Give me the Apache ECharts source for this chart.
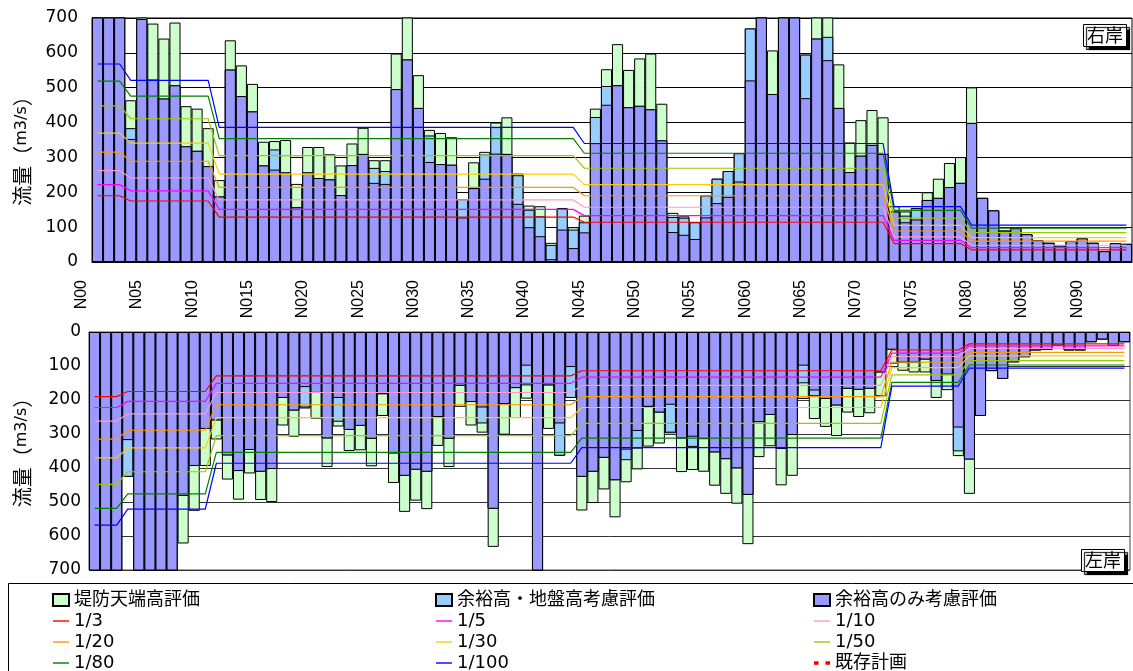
<!DOCTYPE html>
<html>
<head>
<meta charset="utf-8">
<script src="https://cdn.jsdelivr.net/npm/echarts@6/dist/echarts.min.js"></script>
<style>
html, body { margin: 0; padding: 0; background: #fff; }
#chart { width: 1133px; height: 671px; }
</style>
</head>
<body>
<div id="chart"></div>
<script>
// 測点 N00〜N093
const stations = Array.from({ length: 94 }, (_, i) => 'N0' + i);

// 右岸（上段）流下能力 m3/s
const rightDike = [760,760,760,464,720,684,641,687,447,440,
  384,235,636,564,511,345,347,350,224,330,
  330,309,277,340,385,292,292,598,703,536,
  379,370,358,180,286,316,400,415,254,162,
  160,55,155,100,133,440,553,625,551,584,
  598,454,141,131,114,191,239,261,312,670,
  760,607,760,760,595,760,760,567,343,407,
  436,415,160,145,155,200,239,284,301,501,
  184,148,90,97,80,62,55,47,60,68,
  55,31,54,52];
const rightGround = [760,760,760,384,697,523,469,507,332,319,
  275,188,552,476,432,277,323,257,157,257,
  241,237,192,278,310,270,261,496,581,442,
  363,281,279,180,212,308,387,310,249,150,
  131,49,152,93,114,416,505,507,444,448,
  438,349,129,127,114,191,239,261,312,670,
  760,482,760,760,595,641,646,442,258,305,
  336,310,145,133,150,178,184,215,227,399,
  184,148,90,97,80,62,55,47,60,68,
  55,31,54,52];
const rightFree = [760,760,760,353,697,523,469,507,332,319,
  275,188,552,476,432,277,265,257,157,257,
  241,237,192,278,310,227,224,496,581,442,
  287,281,279,128,212,239,311,310,167,100,
  74,8,93,40,85,341,451,507,444,448,
  438,349,86,78,66,128,169,187,231,521,
  760,482,760,760,470,641,579,442,258,305,
  336,310,145,114,122,178,184,215,227,399,
  184,148,90,97,80,62,55,47,60,68,
  55,31,54,52];

// 左岸（下段）
const leftDike = [760,760,760,426,760,760,760,760,622,526,
  394,316,434,493,416,494,500,275,308,225,
  255,397,278,350,348,395,247,444,529,496,
  521,335,397,220,275,296,632,302,253,196,
  760,285,364,194,525,503,463,545,442,404,
  337,328,298,412,406,411,452,476,505,624,
  368,336,451,423,197,256,279,306,237,250,
  239,189,93,114,119,119,194,171,365,476,
  247,115,138,89,74,54,53,40,54,54,
  30,22,41,30];
const leftGround = [760,760,760,426,760,760,760,760,482,394,
  285,260,363,409,347,411,403,194,231,222,
  179,313,264,288,276,314,183,357,423,405,
  411,250,314,158,206,269,520,212,165,157,
  760,157,364,194,426,411,370,436,377,343,
  220,237,296,313,338,315,354,374,401,479,
  265,244,344,303,151,189,197,216,167,170,
  167,119,52,90,90,81,144,125,351,375,
  247,115,138,89,74,54,53,40,54,54,
  30,22,41,30];
const leftFree = [760,760,760,318,760,760,760,760,482,394,
  285,260,363,409,347,411,403,194,231,162,
  179,313,194,288,276,314,183,357,423,405,
  411,250,314,158,206,222,520,212,165,99,
  760,157,269,103,426,411,370,436,346,291,
  220,237,214,313,308,315,354,374,401,479,
  265,244,344,303,99,172,197,216,167,170,
  167,119,52,90,90,81,144,125,281,375,
  247,115,138,89,74,54,53,40,54,54,
  30,22,41,30];

// 確率規模別流量（区間ごと）
const segStart = [0, 3, 11, 44, 72, 79];
const q3   = [190, 175, 129, 114, 53, 35];
const q5   = [222, 204, 151, 133, 62, 41];
const q10  = [262, 241, 178, 157, 72, 48];
const q20  = [315, 289, 214, 190, 89, 60];
const q30  = [370, 341, 252, 222, 105, 70];
const q50  = [448, 411, 305, 269, 126, 84];
const q80  = [519, 476, 354, 312, 148, 97];
const q100 = [568, 521, 386, 340, 159, 106];
const existingPlan = [];

const yTicks = [0, 100, 200, 300, 400, 500, 600, 700];

function expand(levels) {
  return stations.map((_, i) => {
    let s = 0;
    segStart.forEach((st, j) => { if (i >= st) s = j; });
    return levels[s];
  });
}

const chart = echarts.init(document.getElementById('chart'));

const barDefs = [
  { name: '堤防天端高評価', color: '#CCFFCC', top: rightDike, bottom: leftDike },
  { name: '余裕高・地盤高考慮評価', color: '#99CCFF', top: rightGround, bottom: leftGround },
  { name: '余裕高のみ考慮評価', color: '#9999FF', top: rightFree, bottom: leftFree }
];
const lineDefs = [
  { name: '1/3', color: '#FF0000', v: q3 },
  { name: '1/5', color: '#FF00FF', v: q5 },
  { name: '1/10', color: '#FF99CC', v: q10 },
  { name: '1/20', color: '#FF9900', v: q20 },
  { name: '1/30', color: '#FFCC00', v: q30 },
  { name: '1/50', color: '#99CC00', v: q50 },
  { name: '1/80', color: '#008000', v: q80 },
  { name: '1/100', color: '#0000FF', v: q100 }
];

const series = [];
[0, 1].forEach(p => {
  barDefs.forEach(b => {
    series.push({
      type: 'bar', name: b.name,
      xAxisIndex: p, yAxisIndex: p,
      data: p === 0 ? b.top : b.bottom,
      barGap: '-100%', barCategoryGap: '0%',
      itemStyle: { color: b.color, borderColor: '#000', borderWidth: 1 },
      silent: true
    });
  });
  lineDefs.forEach(l => {
    series.push({
      type: 'line', name: l.name,
      xAxisIndex: p, yAxisIndex: p,
      data: expand(l.v),
      symbol: 'none', z: 3, silent: true,
      itemStyle: { color: l.color },
      lineStyle: { color: l.color, width: 1.2 }
    });
  });
  series.push({
    type: 'line', name: '既存計画',
    xAxisIndex: p, yAxisIndex: p,
    data: existingPlan, symbol: 'none', z: 4,
    itemStyle: { color: '#FF0000' },
    lineStyle: { color: '#FF0000', width: 3, type: [4, 5] }
  });
});

const numFont = { fontFamily: 'DejaVu Sans', fontSize: 17, color: '#000' };
const nameRich = {
  a: { fontFamily: 'Noto Sans CJK JP', fontSize: 20, color: '#000' },
  c: { fontFamily: 'DejaVu Sans', fontSize: 16, color: '#000' }
};
const legendText = { fontFamily: 'DejaVu Sans, Noto Sans CJK JP', fontSize: 18, lineHeight: 18, color: '#000' };
const lineIcon = 'path://M0 0H16V1.4H0Z';
const dashIcon = 'path://M0 0H4V3H0Z M10 0H14V3H10Z';
function legendAt(left, names) {
  return {
    orient: 'vertical', left: left, top: 586, height: 110,
    itemWidth: 16, itemHeight: 12, itemGap: 3,
    textStyle: legendText,
    selectedMode: false,
    data: names.map(n => {
      if (barDefs.some(b => b.name === n)) return { name: n, icon: 'rect' };
      if (n === '既存計画') return { name: n, icon: dashIcon };
      return { name: n, icon: lineIcon };
    })
  };
}
const boxTitle = (text, left, top) => ({
  text: text, left: left, top: top,
  padding: [2, 4, 2, 4],
  backgroundColor: '#fff', borderColor: '#000', borderWidth: 1,
  shadowColor: '#000', shadowBlur: 1, shadowOffsetX: 3, shadowOffsetY: 3,
  textStyle: { fontFamily: 'Noto Sans CJK JP', fontSize: 18, fontWeight: 'normal', color: '#000', lineHeight: 19 }
});

const option = {
  animation: false,
  backgroundColor: '#fff',
  title: [boxTitle('右岸', 1083, 24), boxTitle('左岸', 1081, 549)],
  legend: [
    legendAt(47, ['堤防天端高評価', '1/3', '1/20', '1/80']),
    legendAt(430, ['余裕高・地盤高考慮評価', '1/5', '1/30', '1/100']),
    legendAt(808, ['余裕高のみ考慮評価', '1/10', '1/50', '既存計画'])
  ],
  grid: [
    { left: 92, top: 18, width: 1040, height: 244, show: true, borderColor: '#000', borderWidth: 1 },
    { left: 89, top: 332, width: 1041, height: 238, show: true, borderColor: '#444', borderWidth: 1 },
    // 測点ラベル用（元図のラベル位置に合わせて左へずらす）
    { left: 76, top: 18, width: 1040, height: 244, show: false }
  ],
  xAxis: [
    {
      type: 'category', gridIndex: 0, data: stations,
      axisTick: { show: false }, axisLabel: { show: false },
      axisLine: { lineStyle: { color: '#000' } }
    },
    {
      type: 'category', gridIndex: 1, data: stations, position: 'top',
      axisTick: { show: false }, axisLabel: { show: false },
      axisLine: { lineStyle: { color: '#444' } }
    },
    {
      type: 'category', gridIndex: 2, data: stations,
      axisTick: { show: false },
      axisLine: { lineStyle: { color: 'rgba(0,0,0,0)' } },
      axisLabel: { interval: 4, rotate: 90, margin: 18,
        fontFamily: 'Liberation Sans', fontSize: 16, color: '#000' }
    }
  ],
  yAxis: [0, 1].map(p => ({
    type: 'value', gridIndex: p, inverse: p === 1,
    min: yTicks[0], max: yTicks[yTicks.length - 1], interval: 100,
    axisLine: { show: true, lineStyle: { color: '#000' } },
    axisTick: { show: false },
    splitLine: { lineStyle: { color: p === 0 ? '#000' : '#333', width: 1 } },
    axisLabel: Object.assign({ margin: p === 0 ? 14 : 8 }, numFont),
    name: '{a|流量（}{c|m3/s}{a|）}',
    nameLocation: 'middle', nameRotate: 90,
    nameGap: p === 0 ? 60 : 57,
    nameTextStyle: { rich: nameRich, padding: p === 0 ? [0, 12, 0, 0] : [0, 0, 0, 7] }
  })).concat([{ type: 'value', gridIndex: 2, min: 0, max: 1, show: false }]),
  graphic: [{
    type: 'rect', silent: true,
    shape: { x: 8.5, y: 583.5, width: 1140, height: 100 },
    style: { fill: 'none', stroke: '#000', lineWidth: 1 }
  }],
  series: series
};

chart.setOption(option);
</script>
</body>
</html>
